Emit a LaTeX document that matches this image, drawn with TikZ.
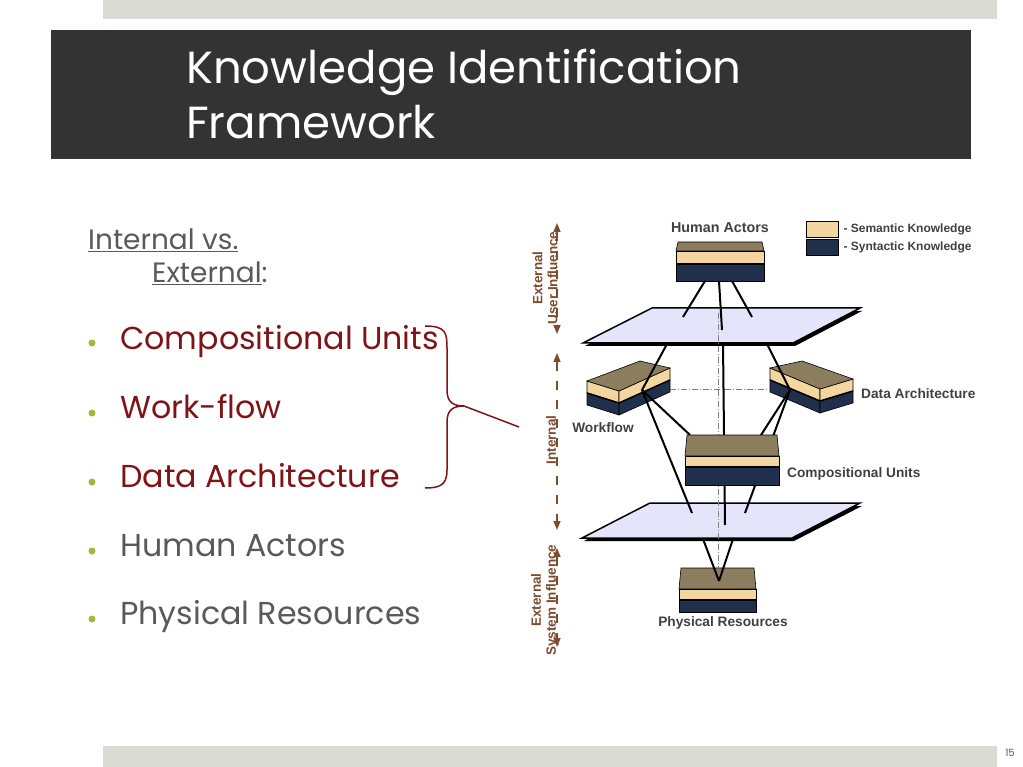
\documentclass[tikz,border=0pt]{standalone}
\usepackage{fontspec}
\usepackage{tikz}
\usetikzlibrary{positioning, arrows.meta, calc}
\usepackage{xcolor}
\setmainfont{Liberation Sans}
\newfontfamily\gothic{Poppins}
\definecolor{slide-gray}{RGB}{217,219,212}
\definecolor{title-dark}{RGB}{51,51,51}
\definecolor{text-gray}{RGB}{89,89,89}
\definecolor{unit-red}{RGB}{127,20,22}
\definecolor{bullet-green}{RGB}{155,187,60}
\definecolor{axis-brown}{RGB}{125,75,45}
\definecolor{label-gray}{RGB}{64,64,64}
\definecolor{top-brown}{RGB}{140,125,95}
\definecolor{sem-tan}{RGB}{243,214,160}
\definecolor{syn-navy}{RGB}{32,47,75}
\definecolor{plane-blue}{RGB}{228,228,250}
\newcommand{\layerbox}[6]{%
	\draw[top] (#1+2,#3) -- (#2-2,#3) -- (#2,#4) -- (#1,#4) -- cycle;
	\draw[sem] (#1,#4) rectangle (#2,#5);
	\draw[syn] (#1,#5) rectangle (#2,#6);
	\draw[line width=1.5pt] (#1,#5) -- (#2,#5);
}
\newcommand{\tiltbox}[4]{%
	\draw[sem] (#1) -- (#4) -- ($(#4)+(0,12)$) -- ($(#1)+(0,12)$) -- cycle;
	\draw[sem] (#4) -- (#3) -- ($(#3)+(0,12)$) -- ($(#4)+(0,12)$) -- cycle;
	\draw[syn] ($(#1)+(0,12)$) -- ($(#4)+(0,12)$) -- ($(#4)+(0,24)$) -- ($(#1)+(0,24)$) -- cycle;
	\draw[syn] ($(#4)+(0,12)$) -- ($(#3)+(0,12)$) -- ($(#3)+(0,24)$) -- ($(#4)+(0,24)$) -- cycle;
	\draw[line width=1.5pt] ($(#1)+(0,12)$) -- ($(#4)+(0,12)$) -- ($(#3)+(0,12)$);
	\draw[top] (#1) -- (#2) -- (#3) -- (#4) -- cycle;
}

\begin{document}
\begin{tikzpicture}[x=1pt, y=-1pt,
		slidebar/.style={fill=slide-gray},
		item/.style={anchor=base west, inner sep=0pt, font=\gothic\fontsize{31.7}{36}\selectfont},
		dot/.style={circle, fill=bullet-green, inner sep=0pt, minimum size=7pt},
		partname/.style={font=\bfseries\fontsize{13.7}{15}\selectfont, text=label-gray, inner sep=0pt},
		legendtext/.style={font=\bfseries\fontsize{12}{14}\selectfont, text=label-gray, inner sep=0pt},
		axisline/.style={axis-brown, line width=1.5pt, dash pattern=on 9pt off 10pt, {Triangle[length=9pt,width=7pt]}-{Triangle[length=9pt,width=7pt]}},
		axislabel/.style={rotate=90, font=\bfseries\fontsize{13.5}{15}\selectfont, text=axis-brown, align=center, inner sep=0pt},
		top/.style={fill=top-brown, draw=black, line width=0.6pt},
		sem/.style={fill=sem-tan, draw=black, line width=0.6pt},
		syn/.style={fill=syn-navy, draw=black, line width=0.6pt},
		plane/.style={fill=plane-blue, draw=black, line width=1.5pt},
		planeshadow/.style={fill=black},
		link/.style={line width=2pt},
		guide/.style={gray, line width=0.8pt, dash pattern=on 6pt off 2pt on 1pt off 2pt}]
	\useasboundingbox (0,0) rectangle (1023,767);
	
	\fill[slidebar] (103,0) rectangle (997,19);
	\fill[slidebar] (103,746) rectangle (997,767);
	\fill[title-dark] (51,30) rectangle (971,159);
	\node[anchor=base west, inner sep=0pt, text=white, font=\gothic\fontsize{45}{50}\selectfont] at (186,84) (title1) {Knowledge Identification};
	\node[anchor=base west, inner sep=0pt, text=white, font=\gothic\fontsize{45}{50}\selectfont] at (186,139) (title2) {Framework};
	\node[text=text-gray, font=\gothic\fontsize{10}{12}\selectfont] at (1010,753) (page) {15};
	
	\node[item, text=text-gray, font=\gothic\fontsize{28}{32}\selectfont] at (88,250) (intvs) {\underline{Internal vs.}};
	\node[item, text=text-gray, font=\gothic\fontsize{28}{32}\selectfont] at (152,283) (ext) {\underline{External}:};
	\foreach \y [count=\i] in {343,413,482,551,619}
		\node[dot] at (92,\y) (dot\i) {};
	\node[item, text=unit-red] at (120,350) (cu) {Compositional Units};
	\node[item, text=unit-red] at (120,418) (wf) {Work-flow};
	\node[item, text=unit-red] at (120,487) (da) {Data Architecture};
	\node[item, text=text-gray] at (120,556) (ha) {Human Actors};
	\node[item, text=text-gray] at (120,624) (pr) {Physical Resources};
	
	\coordinate (bracetip) at (464,406);
	\coordinate (braceend) at (519,427);
	\draw[unit-red, line width=1.5pt] (425,326) .. controls (446,326) and (447,333) .. (447,348) -- (447,390) .. controls (447,402) and (453,406) .. (bracetip) .. controls (453,406) and (447,410) .. (447,422) -- (447,470) .. controls (447,485) and (440,488) .. (425,488);
	\draw[unit-red, line width=1.5pt] (bracetip) -- (braceend);
	
	\draw[axisline] (557,223) -- (557,334);
	\draw[axisline] (557,353) -- (557,530);
	\draw[axisline] (557,548) -- (557,647);
	\node[axislabel] at (545,278) (userinf) {External\\User Influence};
	\node[axislabel] at (551,440) (internal) {Internal};
	\node[axislabel] at (545,600) (sysinf) {External\\System Influence};
	
	\node[sem, minimum width=32pt, minimum height=16pt, inner sep=0pt] at (822,229) (semkey) {};
	\node[syn, minimum width=32pt, minimum height=16pt, inner sep=0pt] at (822,247) (synkey) {};
	\node[legendtext, right=5pt of semkey] (semantic) {- Semantic Knowledge};
	\node[legendtext, right=5pt of synkey] (syntactic) {- Syntactic Knowledge};
	
	\fill[planeshadow] (654,311) -- (862,311) -- (795,346) -- (585,346) -- cycle;
	\draw[plane] (652,308) -- (860,308) -- (793,343) -- (583,343) -- cycle;
	\fill[planeshadow] (652,506) -- (862,506) -- (794,541) -- (584,541) -- cycle;
	\draw[plane] (650,503) -- (860,503) -- (792,538) -- (582,538) -- cycle;
	
	\layerbox{676}{764}{242}{251}{264}{281}
	\layerbox{679}{756}{568}{589}{600}{612}
	\node[partname, font=\bfseries\fontsize{14.3}{16}\selectfont] at (720,228) (human) {Human Actors};
	\node[partname] at (723,623) (physical) {Physical Resources};
	
	\coordinate (ha1) at (705,281);
	\coordinate (ha2) at (719,281);
	\coordinate (ha3) at (732,281);
	\coordinate (up1) at (683,317);
	\coordinate (up2) at (722,330);
	\coordinate (up3) at (752,317);
	\draw[link] (ha1) -- (up1);
	\draw[link] (ha2) -- (up2);
	\draw[link] (ha3) -- (up3);
	
	\coordinate (wfl) at (587,381);
	\coordinate (wfb) at (640,361);
	\coordinate (wfr) at (670,368);
	\coordinate (wff) at (619,391);
	\tiltbox{wfl}{wfb}{wfr}{wff}
	\coordinate (dal) at (770,368);
	\coordinate (dab) at (802,361);
	\coordinate (dar) at (853,379);
	\coordinate (daf) at (820,389);
	\tiltbox{dal}{dab}{dar}{daf}
	\node[partname] at (603,428) (workflow) {Workflow};
	\node[partname, anchor=west] at (861,394) (dataarch) {Data Architecture};
	
	\draw[guide] (718,313) -- (718,581);
	\draw[guide] (670,389) -- (770,389);
	
	\coordinate (upwf) at (667,344);
	\coordinate (upmid) at (723,343);
	\coordinate (upda) at (767,344);
	\coordinate (wfpt) at (642,390);
	\coordinate (dapt) at (790,390);
	\coordinate (cutl) at (690,435);
	\coordinate (cutr) at (761,435);
	\coordinate (lowwf) at (692,513);
	\coordinate (lowmid) at (725,525);
	\coordinate (lowda) at (745,513);
	\draw[link] (upwf) -- (wfpt);
	\draw[link] (upda) -- (dapt);
	\draw[link] (upmid) -- (lowmid);
	\draw[link] (wfpt) -- (cutl);
	\draw[link] (wfpt) -- (lowwf);
	\draw[link] (dapt) -- (cutr);
	\draw[link] (dapt) -- (lowda);
	
	\layerbox{685}{779}{435}{456}{467}{485}
	\node[partname, anchor=west] at (787,474) (compunits) {Compositional Units};
	
	\coordinate (lowl) at (703,539);
	\coordinate (lowr) at (733,539);
	\coordinate (prpt) at (719,581);
	\draw[link] (lowl) -- (prpt);
	\draw[link] (lowr) -- (prpt);
\end{tikzpicture}
\end{document}
